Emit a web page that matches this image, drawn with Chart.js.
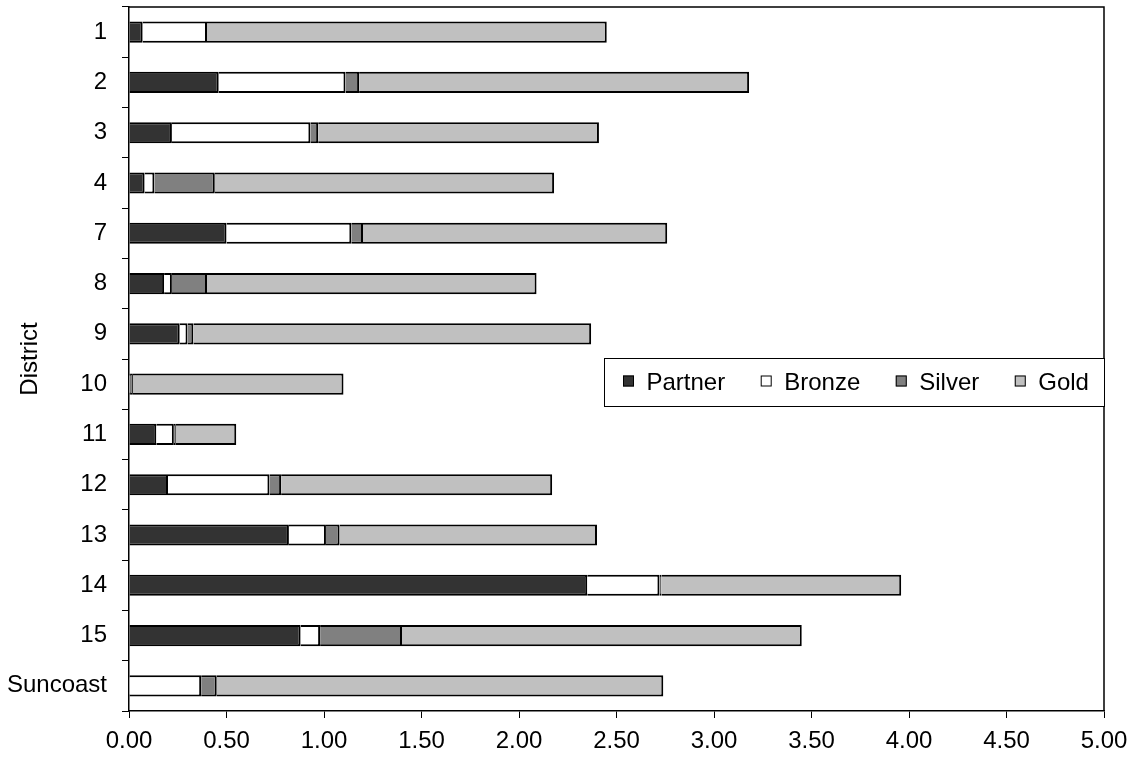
<!DOCTYPE html>
<html>
<head>
<meta charset="utf-8">
<script src="https://cdn.jsdelivr.net/npm/chart.js@4.4.1/dist/chart.umd.min.js"></script>
<style>
  html, body { margin: 0; padding: 0; background: #ffffff; }
  #wrap { position: relative; width: 1134px; height: 766px; }
</style>
</head>
<body>
<div id="wrap"><canvas id="chart" width="1134" height="766"></canvas></div>
<script>
// Districts, top to bottom
const districts = ['1', '2', '3', '4', '7', '8', '9', '10', '11', '12', '13', '14', '15', 'Suncoast'];

// Stacked segment values per district
const partnerVals = [0.07, 0.46, 0.22, 0.08, 0.50, 0.18, 0.26, 0.00, 0.14, 0.20, 0.82, 2.35, 0.88, 0.00];
const bronzeVals  = [0.33, 0.65, 0.71, 0.05, 0.64, 0.04, 0.04, 0.01, 0.09, 0.52, 0.19, 0.37, 0.10, 0.37];
const silverVals  = [0.00, 0.07, 0.04, 0.31, 0.06, 0.18, 0.03, 0.01, 0.01, 0.06, 0.07, 0.01, 0.42, 0.08];
const goldVals    = [2.05, 2.00, 1.44, 1.74, 1.56, 1.69, 2.04, 1.08, 0.31, 1.39, 1.32, 1.23, 2.05, 2.29];

// Value axis ticks
const xTicks = ['0.00', '0.50', '1.00', '1.50', '2.00', '2.50', '3.00', '3.50', '4.00', '4.50', '5.00'];

const FONT = "'Liberation Sans', Arial, Helvetica, sans-serif";

function seg(label, data, color) {
  return {
    label: label,
    data: data,
    backgroundColor: color,
    borderColor: '#000000',
    borderWidth: 2,
    borderSkipped: 'start',
    barPercentage: 1.0,
    categoryPercentage: 0.42
  };
}

// Box around the plotting area (top and right edges; axes draw the rest)
const plotFrame = {
  id: 'plotFrame',
  afterDatasetsDraw(chart) {
    const a = chart.chartArea, ctx = chart.ctx;
    ctx.save();
    ctx.strokeStyle = '#000000';
    ctx.lineWidth = 1.5;
    ctx.beginPath();
    ctx.moveTo(a.left, a.top);
    ctx.lineTo(a.right, a.top);
    ctx.lineTo(a.right, a.bottom);
    ctx.stroke();
    ctx.restore();
  }
};

// Horizontal legend box inside the plot area
const boxLegend = {
  id: 'boxLegend',
  afterDraw(chart) {
    const ctx = chart.ctx;
    const bx = 604, by = 358, bw = 500, bh = 48;
    ctx.save();
    ctx.fillStyle = '#ffffff';
    ctx.fillRect(bx, by, bw, bh);
    ctx.strokeStyle = '#000000';
    ctx.lineWidth = 1;
    ctx.strokeRect(bx + 0.5, by + 0.5, bw, bh);
    ctx.font = '24px ' + FONT;
    ctx.textBaseline = 'middle';
    let x = 623;
    const sw = 11, cy = by + bh / 2;
    chart.data.datasets.forEach(ds => {
      ctx.fillStyle = ds.backgroundColor;
      ctx.fillRect(x, cy - sw / 2 - 1, sw, sw);
      ctx.strokeStyle = '#000000';
      ctx.lineWidth = 1;
      ctx.strokeRect(x + 0.5, cy - sw / 2 - 0.5, sw - 1, sw - 1);
      x += sw + 12.5;
      ctx.fillStyle = '#000000';
      ctx.fillText(ds.label, x, cy + 1);
      x += ctx.measureText(ds.label).width + 35.5;
    });
    ctx.restore();
  }
};

new Chart(document.getElementById('chart'), {
  type: 'bar',
  data: {
    labels: districts,
    datasets: [
      seg('Partner', partnerVals, '#333333'),
      seg('Bronze', bronzeVals, '#ffffff'),
      seg('Silver', silverVals, '#808080'),
      seg('Gold', goldVals, '#c0c0c0')
    ]
  },
  options: {
    indexAxis: 'y',
    responsive: false,
    animation: false,
    devicePixelRatio: 1,
    layout: { padding: { left: 0, top: 7, right: 30, bottom: 0 } },
    plugins: {
      legend: { display: false },
      tooltip: { enabled: false }
    },
    scales: {
      x: {
        stacked: true,
        min: 0,
        max: 5,
        afterBuildTicks(scale) {
          scale.ticks = xTicks.map(t => ({ value: parseFloat(t) }));
        },
        afterFit(scale) {
          scale.height = 55;
          scale.paddingLeft = 0;
          scale.paddingRight = 0;
        },
        ticks: {
          autoSkip: false,
          maxRotation: 0,
          padding: 9,
          color: '#000000',
          font: { family: FONT, size: 24 },
          callback: (v) => xTicks.find(t => parseFloat(t) === v) || ''
        },
        grid: {
          drawOnChartArea: false,
          drawTicks: true,
          tickLength: 7,
          color: '#000000',
          lineWidth: 1
        },
        border: { display: true, color: '#000000', width: 1.5 }
      },
      y: {
        stacked: true,
        afterFit(scale) {
          scale.width = 129;
          scale.paddingTop = 0;
          scale.paddingBottom = 0;
        },
        ticks: {
          padding: 15,
          color: '#000000',
          font: { family: FONT, size: 24 }
        },
        grid: {
          offset: true,
          drawOnChartArea: false,
          drawTicks: true,
          tickLength: 7,
          color: '#000000',
          lineWidth: 1
        },
        border: { display: true, color: '#000000', width: 1.5 },
        title: {
          display: true,
          text: 'District',
          color: '#000000',
          font: { family: FONT, size: 24 },
          padding: { top: 16, bottom: 0 }
        }
      }
    }
  },
  plugins: [plotFrame, boxLegend]
});
</script>
</body>
</html>
